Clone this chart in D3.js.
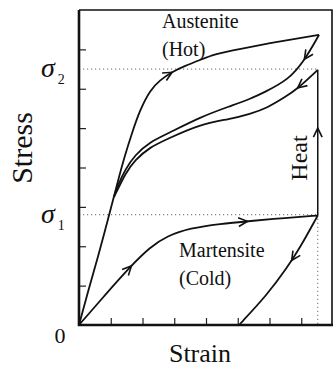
<!DOCTYPE html>
<html>
<head>
<meta charset="utf-8">
<script src="https://cdnjs.cloudflare.com/ajax/libs/d3/7.8.5/d3.min.js"></script>
<style>
    body { margin: 0; background: #ffffff; }
    svg text { font-family: "Liberation Serif", "DejaVu Serif", serif; fill: #111111; }
</style>
</head>
<body>
<svg id="svg1" width="334" height="370"></svg>
<script>
//chart data (strain / stress in arbitrary units)
const xTicks = [1, 2, 3, 4, 5, 6, 7];
const yTicks = [1, 2, 3, 4, 5, 6, 7];
const sigma1 = 2.8;
const sigma2 = 6.5;
const heatStrain = 7.52;

const martensiteLoad = [[0, 0], [0.82, 0.76], [1.6, 1.47], [2.24, 1.98], [2.77, 2.26], [3.5, 2.46],
                        [4.44, 2.57], [5.39, 2.64], [6.49, 2.72], [7.52, 2.78]];
const martensiteUnload = [[7.52, 2.78], [6.96, 1.96], [6.55, 1.45], [5.92, 0.76], [5.04, 0]];
const austeniteLoad = [[0, 0], [0.28, 0.84], [0.6, 1.73], [0.91, 2.67], [1.2, 3.58], [1.45, 4.32],
                       [1.67, 4.88], [1.92, 5.46], [2.24, 5.97], [2.55, 6.22], [2.93, 6.43],
                       [3.34, 6.58], [3.81, 6.73], [4.28, 6.88], [5.07, 7.01], [6.02, 7.16],
                       [6.96, 7.29], [7.56, 7.37]];
const austeniteUnload = [[7.56, 7.37], [7.09, 6.7], [6.58, 6.22], [5.86, 5.92], [5.39, 5.74],
                         [4.76, 5.56], [3.81, 5.28], [2.77, 4.85], [2.24, 4.65], [1.76, 4.32],
                         [1.45, 3.94], [1.23, 3.56], [1.1, 3.25]];
const heatedUnload = [[heatStrain, 6.48], [6.87, 5.99], [6.49, 5.79], [5.92, 5.51], [5.39, 5.36],
                      [4.76, 5.23], [3.81, 5.1], [2.77, 4.72], [2.24, 4.52], [1.76, 4.19],
                      [1.45, 3.83], [1.23, 3.45], [1.1, 3.25]];
const heatPath = [[heatStrain, 2.78], [heatStrain, 6.48]];

// arrow positions: which curve, and a point near where the head sits
const arrows = [
    ["martensiteLoad", 1.65, 1.5],
    ["martensiteLoad", 5.3, 2.63],
    ["martensiteUnload", 6.72, 1.62],
    ["austeniteLoad", 2.93, 6.43],
    ["austeniteUnload", 7.12, 6.74],
    ["heatedUnload", 6.9, 6.0],
    ["heatPath", heatStrain, 5.0]
];

const curves = {
    martensiteLoad: martensiteLoad,
    martensiteUnload: martensiteUnload,
    austeniteLoad: austeniteLoad,
    austeniteUnload: austeniteUnload,
    heatedUnload: heatedUnload,
    heatPath: heatPath
};

//layout
const plotLeft = 79, plotRight = 333, plotTop = 10, plotBottom = 325;

const xScale = d3.scaleLinear().domain([0, 8]).range([plotLeft, plotRight]);
const yScale = d3.scaleLinear().domain([0, 8]).range([plotBottom, plotTop]);

const svg = d3.select("#svg1");

// dotted guide lines
const dotted = svg.append("g")
    .attr("stroke", "#666")
    .attr("stroke-width", 1)
    .attr("stroke-dasharray", "1.2,2.8")
    .attr("fill", "none");

dotted.append("line")
    .attr("x1", xScale(0)).attr("x2", xScale(heatStrain))
    .attr("y1", yScale(sigma2)).attr("y2", yScale(sigma2));
dotted.append("line")
    .attr("x1", xScale(0)).attr("x2", xScale(heatStrain))
    .attr("y1", yScale(sigma1)).attr("y2", yScale(sigma1));
dotted.append("line")
    .attr("x1", xScale(heatStrain)).attr("x2", xScale(heatStrain))
    .attr("y1", yScale(sigma1)).attr("y2", yScale(0));

// axes (ticks pointing inward)
const bottomAxis = d3.axisBottom(xScale).tickValues(xTicks).tickSizeInner(-7).tickSizeOuter(0).tickFormat("");
const leftAxis = d3.axisLeft(yScale).tickValues(yTicks).tickSizeInner(-7).tickSizeOuter(0).tickFormat("");

svg.append("g")
    .attr("transform", "translate(0," + plotBottom + ")")
    .call(bottomAxis)
    .call(g => g.select(".domain").remove())
    .selectAll("line").attr("stroke", "#222").attr("stroke-width", 1.2);

svg.append("g")
    .attr("transform", "translate(" + plotLeft + ",0)")
    .call(leftAxis)
    .call(g => g.select(".domain").remove())
    .selectAll("line").attr("stroke", "#222").attr("stroke-width", 1.2);

// frame
svg.append("path")
    .attr("d", "M" + plotLeft + "," + plotTop + "H" + (plotRight - 1) + "V" + plotBottom)
    .attr("fill", "none").attr("stroke", "#111").attr("stroke-width", 1.6);
svg.append("path")
    .attr("d", "M" + plotLeft + "," + plotTop + "V" + plotBottom + "H" + plotRight)
    .attr("fill", "none").attr("stroke", "#111").attr("stroke-width", 2.6);

// curves
const line = d3.line()
    .x(d => xScale(d[0]))
    .y(d => yScale(d[1]))
    .curve(d3.curveBasis);

const paths = {};
Object.keys(curves).forEach(k => {
    paths[k] = svg.append("path")
        .datum(curves[k])
        .attr("d", line)
        .attr("fill", "none")
        .attr("stroke", "#111")
        .attr("stroke-width", k == "heatPath" ? 1.5 : 1.8);
});

// open arrow heads along the curves
arrows.forEach(a => {
    const node = paths[a[0]].node();
    const total = node.getTotalLength();
    const px = xScale(a[1]), py = yScale(a[2]);
    let best = 0, bestD = Infinity;
    for (let s = 0; s <= total; s += 0.5) {
        const p = node.getPointAtLength(s);
        const dd = (p.x - px) * (p.x - px) + (p.y - py) * (p.y - py);
        if (dd < bestD) { bestD = dd; best = s; }
    }
    const p0 = node.getPointAtLength(Math.max(best - 2, 0));
    const p1 = node.getPointAtLength(Math.min(best + 2, total));
    const tip = node.getPointAtLength(best);
    const ang = Math.atan2(p1.y - p0.y, p1.x - p0.x);
    const len = 10, spread = 0.45;
    const b1 = [tip.x - len * Math.cos(ang - spread), tip.y - len * Math.sin(ang - spread)];
    const b2 = [tip.x - len * Math.cos(ang + spread), tip.y - len * Math.sin(ang + spread)];
    svg.append("path")
        .attr("d", "M" + b1[0] + "," + b1[1] + "L" + tip.x + "," + tip.y + "L" + b2[0] + "," + b2[1])
        .attr("fill", "none")
        .attr("stroke", "#111")
        .attr("stroke-width", 1.6);
});

// labels
svg.append("text")
    .attr("x", 60).attr("y", 343)
    .attr("text-anchor", "middle")
    .attr("font-size", 22)
    .text("0");

function sigmaLabel(value, sub) {
    const t = svg.append("text")
        .attr("x", 41).attr("y", yScale(value) + 8)
        .attr("font-size", 28);
    t.append("tspan").attr("font-style", "italic").text("σ");
    t.append("tspan").attr("font-size", 14).attr("dx", 3).attr("dy", 7).text(sub);
}
sigmaLabel(sigma2, "2");
sigmaLabel(sigma1, "1");

svg.append("text")
    .attr("transform", "translate(32,148) rotate(-90)")
    .attr("text-anchor", "middle")
    .attr("font-size", 30)
    .text("Stress");

svg.append("text")
    .attr("x", 200).attr("y", 362)
    .attr("text-anchor", "middle")
    .attr("font-size", 26)
    .text("Strain");

svg.append("text")
    .attr("transform", "translate(307,158) rotate(-90)")
    .attr("text-anchor", "middle")
    .attr("font-size", 24)
    .text("Heat");

svg.append("text").attr("x", 162).attr("y", 28).attr("font-size", 20).text("Austenite");
svg.append("text").attr("x", 162).attr("y", 56).attr("font-size", 20).text("(Hot)");
svg.append("text").attr("x", 179).attr("y", 257).attr("font-size", 20).text("Martensite");
svg.append("text").attr("x", 179).attr("y", 285).attr("font-size", 20).text("(Cold)");
</script>
</body>
</html>
